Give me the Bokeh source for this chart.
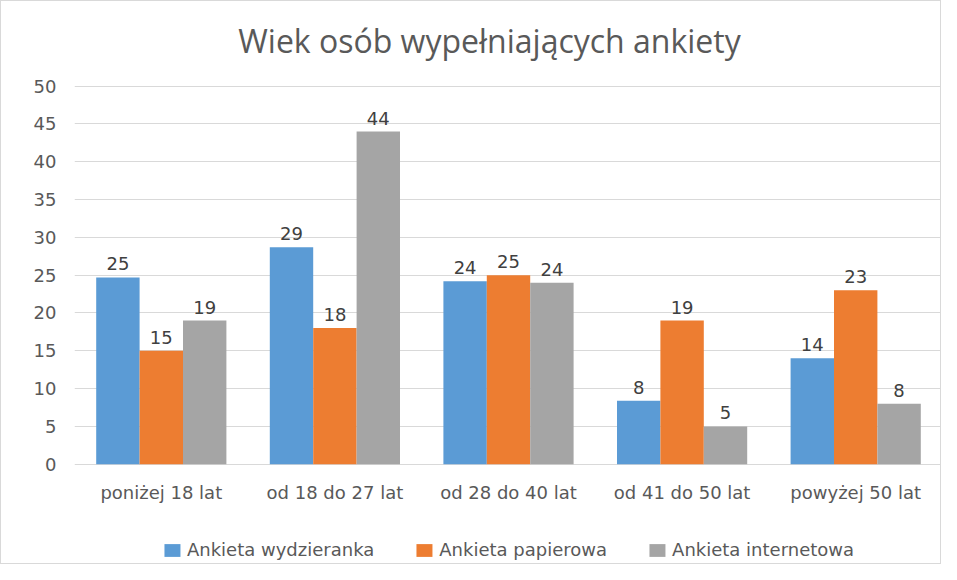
from bokeh.plotting import figure
from bokeh.models import ColumnDataSource, FactorRange, Legend, LegendItem, Range1d, LabelSet
from bokeh.transform import dodge
from bokeh.embed import file_html
from bokeh.resources import INLINE
from bokeh.core.properties import value

title_text = "Wiek osób wypełniających ankiety"
categories = ["poniżej 18 lat", "od 18 do 27 lat", "od 28 do 40 lat", "od 41 do 50 lat", "powyżej 50 lat"]
series_names = ["Ankieta wydzieranka", "Ankieta papierowa", "Ankieta internetowa"]
wydzieranka = [24.7, 28.7, 24.2, 8.4, 14.0]
papierowa = [15, 18, 25, 19, 23]
internetowa = [19, 44, 24, 5, 8]
y_ticks = [0, 5, 10, 15, 20, 25, 30, 35, 40, 45, 50]

colors = ["#5B9BD5", "#ED7D31", "#A5A5A5"]
offsets = [-0.25, 0.0, 0.25]
FONT = "DejaVu Sans"
TITLE_FONT = "Open Sans"

# y range extends beyond 0..50 to leave room (inside the frame) for title, category labels and legend
p = figure(x_range=FactorRange(*categories, range_padding=0), y_range=Range1d(-13.4, 61.2),
           width=941, height=564, output_backend="svg", toolbar_location=None,
           min_border_left=73, min_border_right=0, min_border_bottom=0, min_border_top=0)

title_src = ColumnDataSource(dict(x=[categories[len(categories) // 2]], y=[56], t=[title_text]))
p.add_layout(LabelSet(x="x", y="y", text="t", source=title_src, x_offset=-19,
                      text_align="center", text_baseline="middle",
                      text_font=value(TITLE_FONT), text_font_size="32px", text_color="#595959"))

series = [wydzieranka, papierowa, internetowa]
items = []
for name, vals, col, off in zip(series_names, series, colors, offsets):
    src = ColumnDataSource(dict(cat=categories, val=vals, lab=[f"{v:.0f}" for v in vals]))
    r = p.vbar(x=dodge("cat", off, range=p.x_range), top="val", width=0.25, source=src,
               fill_color=col, line_color=None)
    items.append(LegendItem(label=name, renderers=[r]))
    labels = LabelSet(x=dodge("cat", off, range=p.x_range), y="val", text="lab", source=src,
                      text_align="center", text_baseline="bottom", y_offset=7,
                      text_font=value(FONT), text_font_size="18px", text_color="#404040")
    p.add_layout(labels)

cat_src = ColumnDataSource(dict(cat=categories, base=[0] * len(categories)))
cat_labels = LabelSet(x="cat", y="base", text="cat", source=cat_src,
                      text_align="center", text_baseline="top", y_offset=-18,
                      text_font=value(FONT), text_font_size="18px", text_color="#595959")
p.add_layout(cat_labels)

p.yaxis.ticker = y_ticks
p.yaxis.axis_line_color = None
p.yaxis.major_tick_line_color = None
p.yaxis.minor_tick_line_color = None
p.yaxis.major_label_text_font = FONT
p.yaxis.major_label_text_font_size = "18px"
p.yaxis.major_label_text_color = "#595959"
p.yaxis.major_label_standoff = 12

p.xaxis.visible = False

p.xgrid.grid_line_color = None
p.ygrid.ticker = y_ticks
p.ygrid.grid_line_color = "#D9D9D9"
p.outline_line_color = None

legend = Legend(items=items, orientation="horizontal", location="bottom_center",
                label_text_font=FONT, label_text_font_size="18px", label_text_color="#595959",
                glyph_width=20, glyph_height=16, label_standoff=5, spacing=40,
                border_line_color=None, background_fill_alpha=0, margin=5, padding=0)
p.add_layout(legend)

p.styles = {"border": "1px solid #D9D9D9"}

open("out.html", "w").write(file_html(p, INLINE))
